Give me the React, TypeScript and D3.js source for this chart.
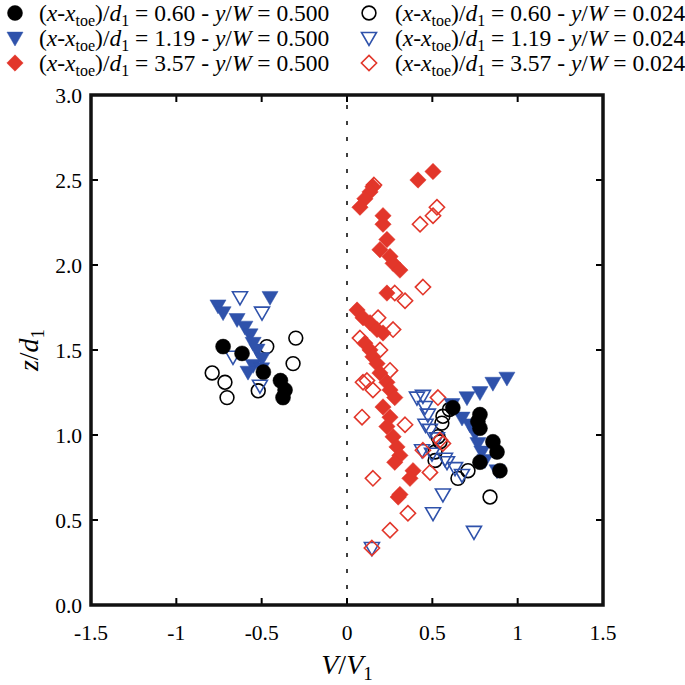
import React from "react";
import * as d3 from "d3";

// [V/V1, z/d1]
const filledBlack: [number, number][] = [
  [-0.726, 1.52], [-0.615, 1.48], [-0.49, 1.37], [-0.39, 1.32], [-0.363, 1.265], [-0.375, 1.22],
  [0.62, 1.16], [0.779, 1.12], [0.767, 1.08], [0.779, 1.04], [0.855, 0.96], [0.879, 0.9], [0.779, 0.84], [0.896, 0.79],
];
const filledBlue: [number, number][] = [
  [-0.756, 1.76], [-0.726, 1.72], [-0.451, 1.81], [-0.644, 1.68], [-0.598, 1.635], [-0.568, 1.59],
  [-0.55, 1.54], [-0.527, 1.5], [-0.498, 1.45], [-0.55, 1.41], [-0.58, 1.37], [-0.5, 1.39],
  [0.937, 1.335], [0.855, 1.305], [0.779, 1.25], [0.703, 1.22], [0.615, 1.18], [0.674, 1.1],
  [0.72, 1.06], [0.75, 1.01], [0.767, 0.95], [0.79, 0.9], [0.808, 0.85], [0.879, 0.79],
];
const filledRed: [number, number][] = [
  [0.504, 2.55], [0.416, 2.5], [0.152, 2.46], [0.135, 2.43], [0.105, 2.39], [0.076, 2.34],
  [0.211, 2.29], [0.211, 2.24], [0.234, 2.15], [0.193, 2.09], [0.252, 2.05], [0.27, 2.01], [0.31, 1.97],
  [0.234, 1.835],
  [0.059, 1.735], [0.094, 1.69], [0.135, 1.66], [0.176, 1.62], [0.211, 1.6], [0.105, 1.54], [0.135, 1.5],
  [0.152, 1.46], [0.176, 1.42], [0.193, 1.365], [0.234, 1.31], [0.252, 1.265], [0.28, 1.22],
  [0.211, 1.165], [0.252, 1.105], [0.234, 1.05], [0.27, 0.99], [0.293, 0.93], [0.31, 0.88],
  [0.28, 0.84], [0.387, 0.79], [0.369, 0.745], [0.31, 0.65], [0.3, 0.635],
];
const openBlack: [number, number][] = [
  [-0.3, 1.57], [-0.47, 1.52], [-0.316, 1.42], [-0.79, 1.365], [-0.715, 1.31], [-0.703, 1.22], [-0.52, 1.26],
  [0.6, 1.15], [0.562, 1.11], [0.556, 1.07], [0.533, 0.99], [0.545, 0.96], [0.516, 0.9], [0.516, 0.85],
  [0.709, 0.79], [0.65, 0.745], [0.838, 0.635],
];
const openBlue: [number, number][] = [
  [-0.627, 1.81], [-0.498, 1.72], [-0.668, 1.46], [-0.51, 1.29],
  [0.41, 1.22], [0.445, 1.23], [0.457, 1.165], [0.474, 1.12], [0.486, 1.03], [0.527, 0.98], [0.44, 0.91],
  [0.498, 0.89], [0.586, 0.84], [0.633, 0.805], [0.674, 0.765], [0.562, 0.65], [0.504, 0.54],
  [0.744, 0.43], [0.146, 0.335], [0.574, 0.86], [0.46, 1.06],
];
const openRed: [number, number][] = [
  [0.158, 2.47], [0.527, 2.34], [0.504, 2.29], [0.428, 2.24], [0.445, 1.87], [0.28, 1.835], [0.34, 1.79],
  [0.182, 1.69], [0.27, 1.62], [0.076, 1.57], [0.193, 1.5], [0.252, 1.38], [0.094, 1.31], [0.117, 1.32],
  [0.152, 1.265], [0.533, 1.22], [0.088, 1.105], [0.34, 1.06], [0.545, 0.97], [0.445, 0.91],
  [0.486, 0.78], [0.562, 0.95], [0.152, 0.745], [0.357, 0.54], [0.252, 0.44], [0.146, 0.335],
];

const xTicks = [-1.5, -1, -0.5, 0, 0.5, 1, 1.5];
const yTicks = [0, 0.5, 1, 1.5, 2, 2.5, 3];
const legendRatios = ["0.60", "1.19", "3.57"];
const legendWidths = ["0.500", "0.024"];

const BLUE = "#2f52ab";
const RED = "#e2362a";
const FONT = "'Liberation Serif', 'Times New Roman', serif";

type Shape = "circle" | "tri" | "diamond";

function Marker({ shape, x, y, color, filled }: { shape: Shape; x: number; y: number; color: string; filled: boolean }) {
  const fill = filled ? color : "none";
  const stroke = color;
  const sw = filled ? 0.5 : 1.6;
  if (shape === "circle") {
    return <circle cx={x} cy={y} r={filled ? 7.5 : 6.9} fill={fill} stroke={stroke} strokeWidth={sw} />;
  }
  if (shape === "tri") {
    const s = filled ? 1.07 : 1.0;
    const p = [[-7.5 * s, -5.5 * s], [7.5 * s, -5.5 * s], [0, 7.5 * s]].map(([a, b]) => `${x + a},${y + b}`).join(" ");
    return <polygon points={p} fill={fill} stroke={stroke} strokeWidth={sw} strokeLinejoin="miter" />;
  }
  const h = filled ? 8.2 : 7.6;
  const p = [[0, -h], [h, 0], [0, h], [-h, 0]].map(([a, b]) => `${x + a},${y + b}`).join(" ");
  return <polygon points={p} fill={fill} stroke={stroke} strokeWidth={sw} />;
}

function LegendLabel({ x, y, ratio, w }: { x: number; y: number; ratio: string; w: string }) {
  return (
    <text x={x} y={y} fontFamily={FONT} fontSize={23.5} fill="#000">
      <tspan>(</tspan>
      <tspan fontStyle="italic">x</tspan>
      <tspan>-</tspan>
      <tspan fontStyle="italic">x</tspan>
      <tspan fontSize={16} dy={5}>toe</tspan>
      <tspan dy={-5}>)/</tspan>
      <tspan fontStyle="italic">d</tspan>
      <tspan fontSize={16} dy={5}>1</tspan>
      <tspan dy={-5}>{` = ${ratio} - `}</tspan>
      <tspan fontStyle="italic">y</tspan>
      <tspan>/</tspan>
      <tspan fontStyle="italic">W</tspan>
      <tspan>{` = ${w}`}</tspan>
    </text>
  );
}

export default function App() {
  const left = 91, right = 603, top = 95, bottom = 605;
  const x = d3.scaleLinear().domain([-1.5, 1.5]).range([left, right]);
  const y = d3.scaleLinear().domain([0, 3]).range([bottom, top]);
  const fmtY = d3.format(".1f");
  const fmtX = (v: number) => String(v);

  const series: { data: [number, number][]; shape: Shape; color: string; filled: boolean }[] = [
    { data: openBlack, shape: "circle", color: "#000", filled: false },
    { data: openBlue, shape: "tri", color: BLUE, filled: false },
    { data: openRed, shape: "diamond", color: RED, filled: false },
    { data: filledRed, shape: "diamond", color: RED, filled: true },
    { data: filledBlue, shape: "tri", color: BLUE, filled: true },
    { data: filledBlack, shape: "circle", color: "#000", filled: true },
  ];

  const legendRows: { shape: Shape; color: string }[] = [
    { shape: "circle", color: "#000" },
    { shape: "tri", color: BLUE },
    { shape: "diamond", color: RED },
  ];
  const tickLen = 7;

  return (
    <div style={{ position: "absolute", left: 0, top: 0 }}>
      <svg width={685} height={685} style={{ display: "block", background: "#fff" }}>
        {/* legend */}
        {legendRows.map((r, i) => (
          <g key={i}>
            <Marker shape={r.shape} x={15} y={13 + i * 25} color={r.color} filled={true} />
            <LegendLabel x={39} y={21 + i * 25} ratio={legendRatios[i]} w={legendWidths[0]} />
            <Marker shape={r.shape} x={369} y={13 + i * 25} color={r.color} filled={false} />
            <LegendLabel x={395} y={21 + i * 25} ratio={legendRatios[i]} w={legendWidths[1]} />
          </g>
        ))}
        {/* zero line */}
        <line x1={x(0)} x2={x(0)} y1={top} y2={bottom} stroke="#000" strokeWidth={1.5} strokeDasharray="4,12" strokeDashoffset={-10} />
        {/* points */}
        {series.map((s, si) => (
          <g key={si}>
            {s.data.map((d, i) => (
              <Marker key={i} shape={s.shape} x={x(d[0])} y={y(d[1])} color={s.color} filled={s.filled} />
            ))}
          </g>
        ))}
        {/* ticks */}
        {xTicks.slice(1, -1).map((t) => (
          <g key={"xt" + t}>
            <line x1={x(t)} x2={x(t)} y1={bottom} y2={bottom - tickLen} stroke="#000" strokeWidth={2} />
            <line x1={x(t)} x2={x(t)} y1={top} y2={top + tickLen} stroke="#000" strokeWidth={2} />
          </g>
        ))}
        {yTicks.slice(1, -1).map((t) => (
          <g key={"yt" + t}>
            <line x1={left} x2={left + tickLen} y1={y(t)} y2={y(t)} stroke="#000" strokeWidth={2} />
            <line x1={right} x2={right - tickLen} y1={y(t)} y2={y(t)} stroke="#000" strokeWidth={2} />
          </g>
        ))}
        <rect x={left} y={top} width={right - left} height={bottom - top} fill="none" stroke="#111" strokeWidth={3.5} />
        {/* tick labels */}
        {xTicks.map((t) => (
          <text key={"xl" + t} x={x(t)} y={640} textAnchor="middle" fontFamily={FONT} fontSize={21.5} fill="#000">
            {fmtX(t)}
          </text>
        ))}
        {yTicks.map((t) => (
          <text key={"yl" + t} x={82} y={y(t) + 7.5} textAnchor="end" fontFamily={FONT} fontSize={21.5} fill="#000">
            {fmtY(t)}
          </text>
        ))}
        {/* axis titles */}
        <text x={x(0)} y={674} textAnchor="middle" fontFamily={FONT} fontSize={28} fill="#000">
          <tspan fontStyle="italic">V</tspan>
          <tspan>/</tspan>
          <tspan fontStyle="italic">V</tspan>
          <tspan fontSize={19} dy={6}>1</tspan>
        </text>
        <text transform={`translate(38,${(top + bottom) / 2}) rotate(-90)`} textAnchor="middle" fontFamily={FONT} fontSize={28} fill="#000">
          <tspan fontStyle="italic">z</tspan>
          <tspan>/</tspan>
          <tspan fontStyle="italic">d</tspan>
          <tspan fontSize={19} dy={6}>1</tspan>
        </text>
      </svg>
    </div>
  );
}
